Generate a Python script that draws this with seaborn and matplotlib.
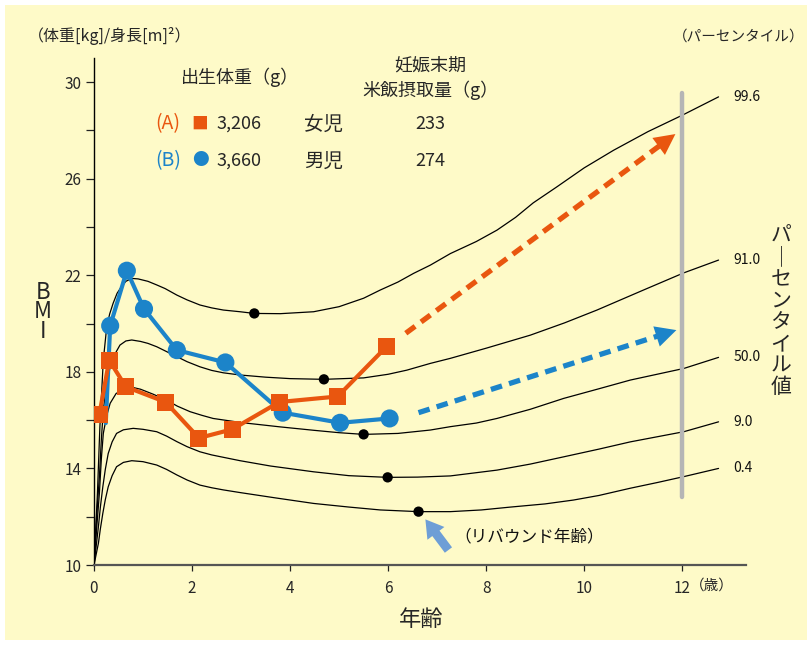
import numpy as np
import pandas as pd
import matplotlib
matplotlib.use("Agg")
import matplotlib.pyplot as plt
import seaborn as sns
from matplotlib.patches import Rectangle

# ---------------- data ----------------
pct_labels = ["99.6", "91.0", "50.0", "9.0", "0.4"]

age_996 = [0, 0.07, 0.12, 0.19, 0.26, 0.32, 0.39, 0.47, 0.55, 0.65, 0.77, 0.9, 1.0, 1.1, 1.28,
           1.45, 1.69, 1.9, 2.16, 2.4, 2.64, 2.98, 3.27, 3.8, 4.48, 5.0, 5.5, 5.84, 6.2, 6.52,
           6.86, 7.27, 7.8, 8.22, 8.6, 8.96, 9.44, 10.0, 10.6, 11.3, 12.0, 12.74]
bmi_996 = [10, 12.97, 15.73, 18.49, 19.87, 20.4, 20.84, 21.25, 21.5, 21.75, 21.87, 21.85, 21.8,
           21.75, 21.6, 21.45, 21.18, 20.98, 20.77, 20.65, 20.56, 20.49, 20.42, 20.41, 20.49,
           20.7, 21.05, 21.39, 21.72, 22.08, 22.42, 22.9, 23.4, 23.87, 24.4, 25.0, 25.66, 26.45,
           27.18, 27.95, 28.63, 29.39]

age_910 = [0, 0.05, 0.11, 0.15, 0.19, 0.26, 0.33, 0.43, 0.53, 0.65, 0.77, 0.95, 1.1, 1.28, 1.48,
           1.69, 1.9, 2.16, 2.4, 2.64, 2.98, 3.5, 4.0, 4.69, 5.5, 6.0, 6.38, 6.86, 7.27, 8.0,
           8.9, 9.6, 10.26, 11.21, 12.03, 12.74]
bmi_910 = [10, 11.9, 13.66, 15.2, 16.42, 17.5, 18.21, 18.75, 19.11, 19.28, 19.32, 19.26, 19.18,
           19.04, 18.84, 18.63, 18.42, 18.21, 18.06, 17.96, 17.87, 17.78, 17.72, 17.69, 17.75,
           17.9, 18.07, 18.35, 18.56, 18.98, 19.52, 20.03, 20.56, 21.39, 22.1, 22.63]

age_500 = [0, 0.05, 0.11, 0.15, 0.19, 0.26, 0.33, 0.45, 0.6, 0.8, 0.95, 1.2, 1.48, 1.7, 1.96,
           2.2, 2.43, 3.0, 3.8, 4.48, 5.0, 5.5, 6.2, 6.86, 7.27, 7.8, 8.22, 8.9, 9.58, 10.3,
           10.94, 12.03, 12.74]
bmi_500 = [10, 11.4, 12.97, 14.4, 15.45, 16.2, 16.7, 17.1, 17.3, 17.35, 17.28, 17.08, 16.83,
           16.58, 16.35, 16.2, 16.07, 15.9, 15.72, 15.58, 15.48, 15.41, 15.45, 15.59, 15.73,
           15.88, 16.07, 16.45, 16.9, 17.3, 17.66, 18.14, 18.6]

age_090 = [0, 0.04, 0.09, 0.13, 0.18, 0.23, 0.29, 0.37, 0.46, 0.6, 0.8, 1.0, 1.28, 1.48, 1.69,
           1.9, 2.16, 2.4, 2.64, 2.98, 3.6, 4.48, 5.2, 5.99, 6.6, 7.27, 8.22, 8.9, 9.58, 10.3,
           10.94, 12.03, 12.74]
bmi_090 = [10, 10.7, 11.59, 12.4, 13.24, 13.95, 14.62, 15.1, 15.45, 15.6, 15.66, 15.62, 15.52,
           15.34, 15.11, 14.9, 14.69, 14.56, 14.46, 14.32, 14.1, 13.86, 13.7, 13.63, 13.64,
           13.69, 13.93, 14.18, 14.48, 14.8, 15.1, 15.52, 15.93]

age_004 = [0, 0.04, 0.09, 0.13, 0.18, 0.23, 0.29, 0.37, 0.46, 0.6, 0.77, 1.0, 1.28, 1.48, 1.69,
           1.9, 2.16, 2.4, 2.64, 2.98, 3.7, 4.48, 5.2, 5.84, 6.62, 7.27, 7.9, 8.5, 9.2, 9.78,
           10.3, 10.94, 11.5, 12.03, 12.74]
bmi_004 = [10, 10.4, 10.9, 11.5, 12.14, 12.7, 13.24, 13.7, 14.07, 14.25, 14.32, 14.28, 14.14,
           13.96, 13.73, 13.52, 13.31, 13.2, 13.11, 13.0, 12.78, 12.55, 12.4, 12.28, 12.21,
           12.21, 12.28, 12.4, 12.53, 12.69, 12.88, 13.18, 13.42, 13.66, 14.0]

rebound_age = [3.27, 4.69, 5.5, 5.99, 6.62]
rebound_bmi = [20.42, 17.69, 15.41, 13.63, 12.21]

a_age = [0.11, 0.31, 0.65, 1.46, 2.14, 2.82, 3.78, 4.97, 5.96]
a_bmi = [16.24, 18.48, 17.38, 16.75, 15.26, 15.62, 16.75, 16.98, 19.03]

b_line_age = [0.24, 0.33, 0.67, 1.02, 1.69, 2.68, 3.85, 5.02, 6.03]
b_line_bmi = [15.88, 19.91, 22.19, 20.61, 18.90, 18.39, 16.31, 15.89, 16.07]
b_age = b_line_age[1:]
b_bmi = b_line_bmi[1:]

a_arrow = [(6.36, 19.6), (11.86, 27.85)]
b_arrow = [(6.62, 16.31), (11.88, 19.73)]
rebound_arrow = [(7.23, 10.62), (6.76, 11.89)]
cut_line_age = [12, 12]
cut_line_bmi = [12.8, 29.55]

x_ticks = [0, 2, 4, 6, 8, 10, 12]
y_ticks = [10, 12, 14, 16, 18, 20, 22, 24, 26, 28, 30]
y_labels = ["10", "", "14", "", "18", "", "22", "", "26", "", "30"]

# ---------------- style ----------------
ORANGE = "#E9560F"
BLUE = "#1C84C9"
BG = "#FEFAC8"
sns.set_style("white")
plt.rcParams["font.family"] = ["Noto Sans CJK JP", "DejaVu Sans"]

W, H = 812, 645
fig = plt.figure(figsize=(W / 100, H / 100), dpi=100)
fig.patch.set_facecolor("white")
fig.patches.append(Rectangle((5 / W, 1 - 640 / H), 802 / W, 635 / H, transform=fig.transFigure,
                             facecolor=BG, edgecolor="none", zorder=-10))


def P(x, y):
    return x / W, 1 - y / H


ax = fig.add_axes([94 / W, 1 - 565 / H, (746 - 94) / W, (565 - 58) / H])
ax.set_facecolor("none")
ax.set_xlim(0, 13.3)
ax.set_ylim(10, 31)

curves = [(age_996, bmi_996), (age_910, bmi_910), (age_500, bmi_500),
          (age_090, bmi_090), (age_004, bmi_004)]
for (ag, bm), lab in zip(curves, pct_labels):
    sns.lineplot(x=ag, y=bm, ax=ax, color="black", lw=0.9, sort=False, estimator=None)
    ax.text(13.04, bm[-1], lab, fontsize=10, va="center", ha="left", color="#111111")

sns.scatterplot(x=rebound_age, y=rebound_bmi, ax=ax, color="black", s=55, edgecolor="none",
                zorder=4)

# grey cut line at 12 years
sns.lineplot(x=cut_line_age, y=cut_line_bmi, ax=ax, color="#B5B5B5", lw=3.2, sort=False,
             estimator=None)

# series B (blue)
sns.lineplot(x=b_line_age, y=b_line_bmi, ax=ax, color=BLUE, lw=3, sort=False, estimator=None,
             zorder=5)
sns.scatterplot(x=b_age, y=b_bmi, ax=ax, color=BLUE, marker="o", s=170, edgecolor="none",
                zorder=6)
# series A (orange)
sns.lineplot(x=a_age, y=a_bmi, ax=ax, color=ORANGE, lw=3, sort=False, estimator=None, zorder=7)
sns.scatterplot(x=a_age, y=a_bmi, ax=ax, color=ORANGE, marker="s", s=150, edgecolor="none",
                zorder=8)


def dashed_arrow(pts, color):
    (x0, y0), (x1, y1) = pts
    xb = x1 - 0.06 * (x1 - x0)
    yb = y1 - 0.06 * (y1 - y0)
    ax.plot([x0, xb], [y0, yb], color=color, lw=3.8, ls=(0, (2.2, 1.4)),
            solid_capstyle="butt", dash_capstyle="butt", zorder=5)
    ax.annotate("", xy=(x1, y1), xytext=(xb - 0.02 * (x1 - x0), yb - 0.02 * (y1 - y0)),
                arrowprops=dict(arrowstyle="-|>,head_length=0.75,head_width=0.38", lw=0,
                                color=color, mutation_scale=20, shrinkA=0, shrinkB=0),
                zorder=6)


dashed_arrow(a_arrow, ORANGE)
dashed_arrow(b_arrow, BLUE)

ax.annotate("", xy=rebound_arrow[1], xytext=rebound_arrow[0],
            arrowprops=dict(arrowstyle="simple,head_length=0.7,head_width=0.85,tail_width=0.36",
                            mutation_scale=18, color="#6E9ED6", lw=0, shrinkA=0, shrinkB=0))
ax.text(7.35, 11.16, "（リバウンド年齢）", fontsize=12, va="center", ha="left", color="#111111")

# axes styling
for s in ["top", "right"]:
    ax.spines[s].set_visible(False)
ax.spines["left"].set_color("black")
ax.spines["left"].set_linewidth(1.0)
ax.spines["bottom"].set_color("#555555")
ax.spines["bottom"].set_linewidth(1.6)
ax.set_xticks(x_ticks)
ax.set_xticklabels([str(t) for t in x_ticks])
ax.set_yticks(y_ticks)
ax.set_yticklabels(y_labels)
ax.tick_params(axis="y", direction="out", length=6, width=0.9, color="#222222", pad=3,
               labelsize=11, left=True)
ax.tick_params(axis="x", direction="out", length=4, width=0.9, color="#222222", pad=7,
               labelsize=11, bottom=True)
ax.set_xlabel("")
ax.set_ylabel("")

# texts
fig.text(*P(690, 586), "（歳）", fontsize=10.5, ha="left", va="center")
fig.text(*P(421, 620), "年齢", fontsize=16, ha="center", va="center")
fig.text(*P(28, 36), "（体重[kg]/身長[m]²）", fontsize=11.5, ha="left", va="center")
fig.text(*P(805, 37), "（パーセンタイル）", fontsize=10.5, ha="right", va="center")
fig.text(*P(43, 312), "B\nM\nI", fontsize=16, ha="center", va="center",
         multialignment="center", linespacing=0.82)
for i, ch in enumerate("パ｜センタイル値"):
    fig.text(*P(781, 236 + 21.6 * i), ch, fontsize=15, ha="center", va="center")

fig.text(*P(240, 77), "出生体重（g）", fontsize=13, ha="center", va="center")
fig.text(*P(430, 66), "妊娠末期", fontsize=13, ha="center", va="center")
fig.text(*P(430, 90), "米飯摂取量（g）", fontsize=13, ha="center", va="center")

rows = [("(A)", "■", "3,206", "女児", "233", ORANGE, 124),
        ("(B)", "●", "3,660", "男児", "274", BLUE, 161)]
for lab, mk, bw, sex, rice, col, y in rows:
    fig.text(*P(168, y), lab, fontsize=14, ha="center", va="center", color=col)
    fig.text(*P(200, y), mk, fontsize=12, ha="center", va="center", color=col)
    fig.text(*P(217, y), bw, fontsize=13, ha="left", va="center")
    fig.text(*P(304, y), sex, fontsize=14, ha="left", va="center")
    fig.text(*P(430, y), rice, fontsize=13, ha="center", va="center")

fig.savefig("out.png", dpi=100, facecolor=fig.get_facecolor())
